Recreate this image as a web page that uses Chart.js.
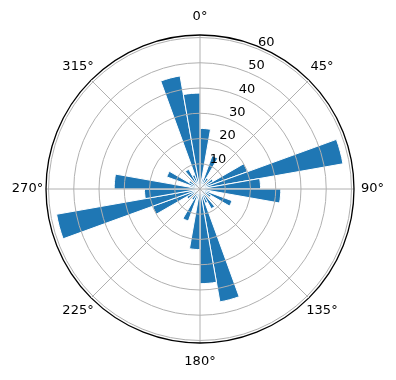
<!DOCTYPE html>
<html><head><meta charset="utf-8">
<script src="https://cdn.jsdelivr.net/npm/chart.js@4.4.1/dist/chart.umd.min.js"></script>
<style>html,body{margin:0;padding:0;background:#fff;} canvas{display:block;}</style>
</head><body>
<canvas id="c" width="396" height="380"></canvas>
<script>
// bin start angles (degrees, clockwise from north), 10 degree bins
const binStarts = [0,10,20,30,40,50,60,70,80,90,100,110,120,130,140,150,160,170,
                   180,190,200,210,220,230,240,250,260,270,280,290,300,310,320,330,340,350];
// bar heights
const counts = [24,4,14,5,3,6,20,57.5,24,32,4,13.5,5,3,9,6,45.4,37.5,
                24,4,13.5,5,3,6,20,57.7,22,34,4,14,5,3,9,6,45.5,38];
const radialTicks = [10,20,30,40,50,60];
const rMax = 61;
const thetaTicks = [0,45,90,135,180,225,270,315];
const thetaLabels = ['0°','45°','90°','135°','180°','225°','270°','315°'];

const barColor = '#1f77b4';
const gridColor = '#b0b0b0';
const textFont = '13px "DejaVu Sans"';

const polarText = {
  id: 'polarText',
  afterDraw(chart) {
    const s = chart.scales.r;
    const ctx = chart.ctx;
    ctx.save();
    ctx.font = textFont;
    ctx.fillStyle = '#000';
    ctx.textAlign = 'left';
    ctx.textBaseline = 'alphabetic';
    radialTicks.forEach(v => {
      const p = s.getPointPosition(0, s.getDistanceFromCenterForValue(v), 22.5 * Math.PI / 180);
      ctx.fillText(String(v), p.x, p.y - 3);
    });
    ctx.textAlign = 'center';
    ctx.textBaseline = 'middle';
    const R = s.getDistanceFromCenterForValue(rMax);
    thetaTicks.forEach((t, i) => {
      const p = s.getPointPosition(0, R + 18.5, t * Math.PI / 180);
      ctx.fillText(thetaLabels[i], p.x, p.y);
    });
    ctx.restore();
  }
};

new Chart(document.getElementById('c'), {
  type: 'polarArea',
  data: {
    labels: binStarts.map(b => b + '°'),
    datasets: [{ data: counts, backgroundColor: barColor, borderColor: '#ffffff', borderWidth: 1 }]
  },
  options: {
    responsive: false,
    animation: false,
    devicePixelRatio: 1,
    layout: { padding: { left: 40, right: 36, top: 35, bottom: 37 } },
    plugins: { legend: { display: false }, tooltip: { enabled: false } },
    scales: {
      r: {
        min: 0, max: rMax, startAngle: 0,
        ticks: { display: false, z: 1 },
        grid: { display: false, z: 1 },
        pointLabels: { display: false },
        angleLines: { display: true, color: gridColor, lineWidth: c => (c.index % 9 === 0 ? 1 : 0) }
      },
      r2: {
        type: 'radialLinear', axis: 'r',
        min: 0, max: rMax, startAngle: 45,
        ticks: { display: false, z: 2 },
        grid: {
          display: true, circular: true, z: 2,
          color: c => (c.tick && c.tick.value === rMax ? '#000000' : gridColor),
          lineWidth: c => (c.tick && c.tick.value === rMax ? 1.3 : 1)
        },
        afterBuildTicks: sc => { sc.ticks = [0, ...radialTicks, rMax].map(v => ({ value: v })); },
        pointLabels: { display: false },
        angleLines: { display: true, color: gridColor, lineWidth: c => (c.index % 9 === 0 ? 1 : 0) }
      }
    }
  },
  plugins: [polarText]
});
</script>
</body></html>
